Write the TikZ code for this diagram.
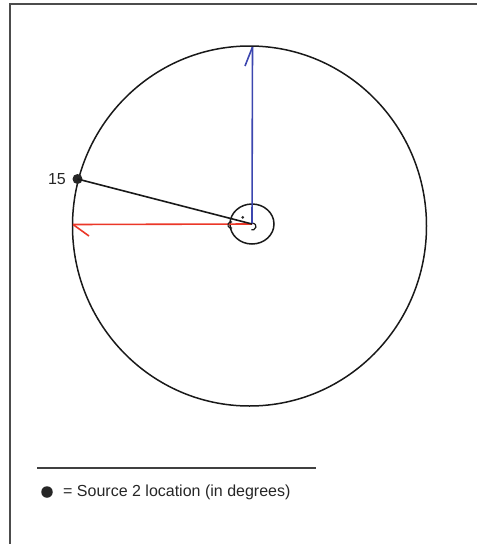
\documentclass[tikz,border=0pt]{standalone}
\usepackage{fontspec}
\setmainfont{Liberation Sans}
\begin{document}
\begin{tikzpicture}[x=1pt,y=-1pt,
  frameline/.style={draw=black!70,line width=2pt},
  ring/.style={draw=black!90,line width=1.5pt},
  blueline/.style={draw={rgb,255:red,60;green,70;blue,175},line width=1.6pt},
  redline/.style={draw={rgb,255:red,235;green,55;blue,40},line width=1.6pt},
  blackline/.style={draw=black!90,line width=1.6pt},
  srcdot/.style={circle,fill=black!85,inner sep=0pt,minimum size=10pt},
  lbl/.style={font=\fontsize{16}{19}\selectfont,text=black!85,inner sep=0pt}]
\useasboundingbox (0,0) rectangle (477,544);
% frame
\draw[frameline] (9.5,544) -- (9.5,3.5) -- (477,3.5);
% big circle and small circle
\coordinate (c) at (252,224);
\draw[ring] (249.5,226) ellipse [x radius=177, y radius=180];
\draw[ring] (c) ellipse [x radius=22, y radius=20];
% endpoints
\coordinate (top) at (252.5,47);
\coordinate (left) at (73,224.5);
% blue arrow
\draw[blueline] (c) -- (top);
\draw[blueline] (top) -- (245,66);
% red arrow
\draw[redline] (c) -- (left);
\draw[redline] (left) -- (89,236);
% source line
\node[srcdot] (d) at (77.5,179) {};
\draw[blackline] (d.center) -- (c);
\node[lbl,anchor=east] (n15) at (66,179) {15};
% small marks
\fill[black!85] (242.7,217.3) circle (1.5);
\draw[blackline,line width=1.2pt] (253.1,223.05) arc[start angle=-80,end angle=110,radius=3.5];
\draw[blackline,line width=1.1pt] (232.2,228) arc[start angle=70,end angle=290,radius=3.2];
% legend
\coordinate (la) at (37,468);
\coordinate (lb) at (316,468);
\draw[blackline,draw=black!75] (la) -- (lb);
\node[srcdot,minimum size=11.5pt] (ld) at (47,492) {};
\node[lbl,anchor=west] (lt) at (63,492) {= Source 2 location (in degrees)};
\end{tikzpicture}
\end{document}
